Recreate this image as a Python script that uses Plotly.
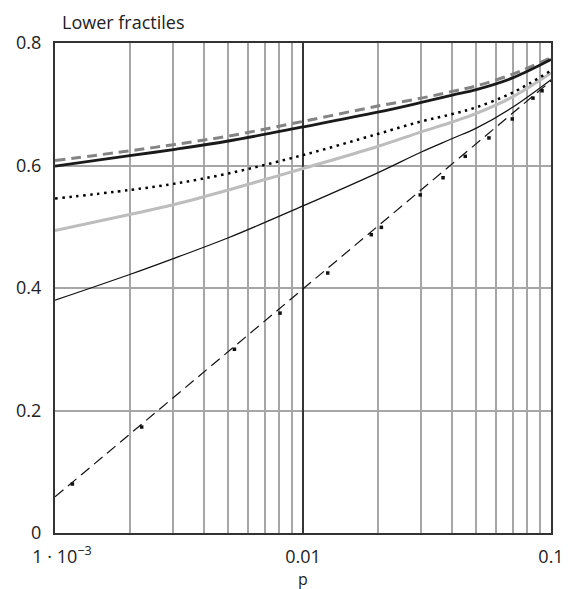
import plotly.graph_objects as go

# ---- data ----
p = [0.001, 0.002, 0.003, 0.005, 0.01, 0.02, 0.03, 0.04, 0.05, 0.07, 0.1]
gray_dashed = [0.608, 0.624, 0.634, 0.648, 0.672, 0.697, 0.710, 0.721, 0.730, 0.749, 0.776]
black_thick = [0.599, 0.616, 0.626, 0.640, 0.663, 0.687, 0.703, 0.715, 0.724, 0.743, 0.773]
dotted = [0.546, 0.560, 0.570, 0.587, 0.617, 0.6515, 0.672, 0.684, 0.695, 0.719, 0.755]
light_gray = [0.494, 0.520, 0.536, 0.560, 0.595, 0.631, 0.655, 0.671, 0.685, 0.712, 0.751]
thin_black = [0.380, 0.422, 0.448, 0.482, 0.534, 0.588, 0.622, 0.644, 0.661, 0.695, 0.740]

dash_line_p = [0.001, 0.01, 0.1]
dash_line_y = [0.059, 0.398, 0.738]
marker_p = [0.001175, 0.002236, 0.00529, 0.00808, 0.01258, 0.01885, 0.0207,
            0.0297, 0.0367, 0.0451, 0.0562, 0.0698, 0.0846, 0.092]
marker_y = [0.080, 0.173, 0.300, 0.359, 0.4245, 0.487, 0.499,
            0.552, 0.580, 0.615, 0.645, 0.676, 0.710, 0.722]

x_grid = [k * 10 ** e for e in (-3, -2) for k in range(1, 10)] + [0.1]
x_labels = {0.001: "&nbsp;&nbsp;&nbsp;1 · 10<sup>−3</sup>", 0.01: "0.01", 0.1: "0.1"}
x_ticktext = [x_labels.get(round(v, 6), "") for v in x_grid]
y_ticks = [0, 0.2, 0.4, 0.6, 0.8]
y_ticktext = ["0", "0.2", "0.4", "0.6", "0.8"]
ref_p = 0.01

FONT = "Open Sans"
FS = 18

fig = go.Figure()
fig.add_trace(go.Scatter(x=[ref_p, ref_p], y=[y_ticks[0], y_ticks[-1]], mode="lines",
                         line=dict(color="#111111", width=1.5), hoverinfo="skip"))
fig.add_trace(go.Scatter(x=dash_line_p, y=dash_line_y, mode="lines",
                         line=dict(color="#111111", width=1.2, dash="11px,6px")))
fig.add_trace(go.Scatter(x=marker_p, y=marker_y, mode="markers",
                         marker=dict(color="#111111", size=3.5, symbol="square")))
fig.add_trace(go.Scatter(x=p, y=thin_black, mode="lines", line=dict(color="#111111", width=1.2, shape="spline")))
fig.add_trace(go.Scatter(x=p, y=light_gray, mode="lines", line=dict(color="#bdbdbd", width=3, shape="spline")))
fig.add_trace(go.Scatter(x=p, y=dotted, mode="lines", line=dict(color="#000000", width=2.5, dash="2.5px,4.5px", shape="spline")))
fig.add_trace(go.Scatter(x=p, y=gray_dashed, mode="lines", line=dict(color="#848484", width=3, dash="10px,6px", shape="spline")))
fig.add_trace(go.Scatter(x=p, y=black_thick, mode="lines", line=dict(color="#1a1a1a", width=2.8, shape="spline")))

fig.update_layout(
    width=570, height=581,
    margin=dict(l=47, r=27, t=35, b=56),
    paper_bgcolor="white", plot_bgcolor="white",
    showlegend=False,
    font=dict(family=FONT, size=FS, color="#222222"),
    annotations=[
        dict(text="Lower fractiles", xref="paper", yref="paper", x=0.0, y=1.0,
             xanchor="left", yanchor="middle", xshift=5, yshift=21, showarrow=False,
             font=dict(family=FONT, size=FS, color="#222222")),
        dict(text="p", xref="paper", yref="paper", x=0.5, y=0.0,
             xanchor="center", yanchor="top", yshift=-34, showarrow=False, borderpad=0,
             font=dict(family=FONT, size=16, color="#222222")),
    ],
)
fig.update_xaxes(type="log", range=[-3, -1], tickvals=x_grid, ticktext=x_ticktext,
                 showgrid=True, gridcolor="#a6a6a6", gridwidth=1.5,
                 showline=True, linecolor="#333333", linewidth=2, mirror=True,
                 ticks="outside", ticklen=6, tickcolor="rgba(0,0,0,0)",
                 automargin=False, zeroline=False)
fig.update_yaxes(range=[0, 0.8], tickvals=y_ticks, ticktext=y_ticktext,
                 showgrid=True, gridcolor="#a6a6a6", gridwidth=1.5,
                 showline=True, linecolor="#333333", linewidth=2, mirror=True,
                 ticks="outside", ticklen=8, tickcolor="rgba(0,0,0,0)",
                 automargin=False, zeroline=False)

fig.write_html("out.html")
